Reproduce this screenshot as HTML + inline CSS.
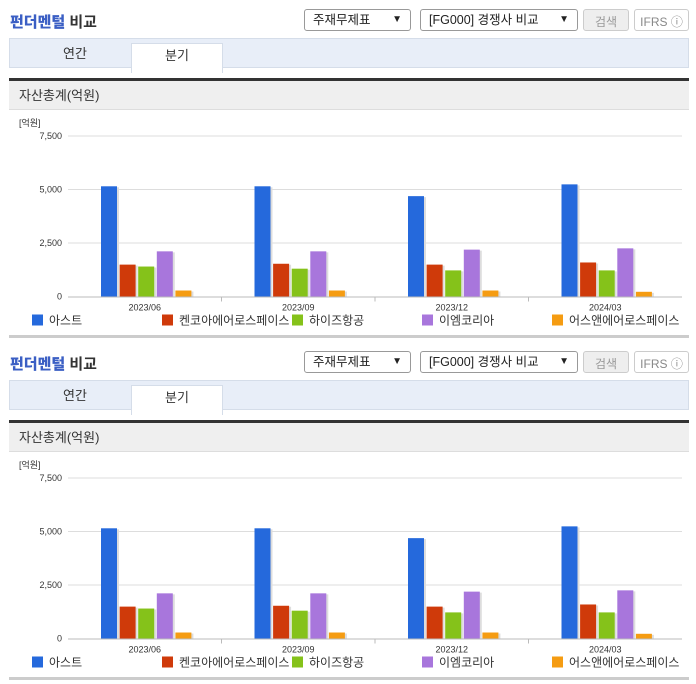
<!DOCTYPE html>
<html><head><meta charset="utf-8">
<style>
*{box-sizing:border-box}
body{margin:0;width:696px;height:684px;background:#fff;font-family:"Liberation Sans","Noto Sans CJK KR",sans-serif;overflow:hidden;position:relative}
.panel{position:absolute;left:0;width:696px;height:342px}
.title{position:absolute;left:10px;top:11px;font-size:15px;font-weight:bold;color:#333}
.title b{color:#3b5fc4}
.sel{position:absolute;top:9px;height:22px;border:1px solid #999;border-radius:3px;font-size:12.5px;line-height:18px;padding:1px 8px;color:#222;background:#fff}
.sel span.arr{position:absolute;right:8px;top:1px;font-size:10px}
.btn{position:absolute;top:9px;height:22px;border:1px solid #ccc;border-radius:3px;font-size:12px;padding:3px 0;text-align:center;color:#999}
.tabs{position:absolute;left:9px;top:38px;width:680px;height:30px;background:#e8eef8;border:1px solid #d5dde9}
.tab{position:absolute;top:0;height:29px;width:90px;text-align:center;font-size:13px;line-height:29px;color:#333}
.tab.on{left:121px;background:#fff;border:1px solid #d5dde9;border-bottom:none;width:92px;height:30px;top:4px;line-height:24px}
.hdr{position:absolute;left:9px;top:78px;width:680px;height:32px;background:#efefef;border-top:3px solid #333;border-bottom:1px solid #ddd;font-size:13px;line-height:29px;padding-left:10px;color:#333}
.bottom{position:absolute;left:9px;top:335px;width:680px;height:3px;background:#ccc}
svg{position:absolute;left:0;top:110px}
</style></head><body>
<script>
const categories=["2023/06","2023/09","2023/12","2024/03"];
const seriesNames=["아스트","켄코아에어로스페이스","하이즈항공","이엠코리아","어스앤에어로스페이스"];
const colors=["#2569dc","#cf3a0a","#85c21a","#a876dc","#f59c12"];
const s0=[5150,5150,4690,5240];
const s1=[1490,1530,1490,1590];
const s2=[1400,1300,1220,1220];
const s3=[2110,2110,2190,2250];
const s4=[280,280,280,220];
const series=[s0,s1,s2,s3,s4];
const yTicks=[0,2500,5000,7500];
const yTickLabels=["0","2,500","5,000","7,500"];
const X0=68,X1=682,Y0=186.5,PXK=21.4/1000;
function y(v){return Y0-v*PXK;}
function bandX(i){return X0+i*(X1-X0)/categories.length;}
const NS="http://www.w3.org/2000/svg";
function mk(tag,attrs,parent){const e=document.createElementNS(NS,tag);for(const k in attrs)e.setAttribute(k,attrs[k]);parent.appendChild(e);return e;}
function panel(top){
  const p=document.createElement('div');p.className='panel';p.style.top=top+'px';
  
  
  p.innerHTML=`<div class="title"><b>펀더멘털</b> 비교</div>
<div class="sel" style="left:304px;width:107px">주재무제표<span class="arr">▼</span></div>
<div class="sel" style="left:420px;width:158px">[FG000] 경쟁사 비교<span class="arr">▼</span></div>
<div class="btn" style="left:583px;width:46px;background:#eee">검색</div>
<div class="btn" style="left:634px;width:55px;color:#888">IFRS ⓘ</div>
<div class="tabs"><div class="tab" style="left:20px">연간</div><div class="tab on">분기</div></div>
<div class="hdr">자산총계(억원)</div>
<div class="bottom"></div>`;
  document.body.appendChild(p);
  const svg=mk('svg',{width:696,height:225},p);
  
  
  const u=mk('text',{x:19,y:16,'font-size':9,fill:'#333'},svg);u.textContent='[억원]';
  
  
  yTicks.forEach((t,i)=>{
    if(i>0){const g=mk('line',{x1:X0,x2:X1,y1:y(t),y2:y(t),stroke:'#ddd'},svg);
      
      }
    const l=mk('text',{x:62,y:y(t)+3,'font-size':9,fill:'#333','text-anchor':'end'},svg);l.textContent=yTickLabels[i];
    
    
  });
  const ax=mk('line',{x1:X0,x2:X1,y1:Y0+.5,y2:Y0+.5,stroke:'#bbb'},svg);
  
  
  categories.forEach((c,i)=>{
    const bx=bandX(i);
    if(i>0){const tk=mk('line',{x1:bx,x2:bx,y1:Y0,y2:Y0+5,stroke:'#bbb'},svg);
      
      }
    const l=mk('text',{x:bx+(X1-X0)/8,y:Y0+14,'font-size':9,fill:'#333','text-anchor':'middle'},svg);l.textContent=c;
    
    
    series.forEach((s,j)=>{
      const x=bx+33+j*18.6,yy=y(s[i]);
      const sh=mk('rect',{x:x+2,y:yy+1,width:16,height:Y0-yy-1,fill:'#ddd'},svg);
      
      
      const r=mk('rect',{x:x,y:yy,width:16,height:Y0-yy,fill:colors[j]},svg);
      
      
    });
  });
  const lx=[32,162,292,422,552];
  seriesNames.forEach((n,j)=>{
    const r=mk('rect',{x:lx[j],y:Y0+18,width:11,height:11,fill:colors[j]},svg);
    
    
    const t=mk('text',{x:lx[j]+17,y:Y0+28,'font-size':12,fill:'#333'},svg);t.textContent=n;
    
    
  });
}
panel(0);panel(342);
</script>
</body></html>
